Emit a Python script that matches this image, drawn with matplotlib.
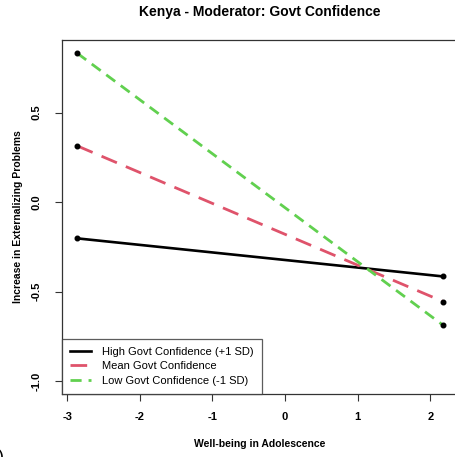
import matplotlib
matplotlib.use("Agg")
import matplotlib.pyplot as plt

# simple slopes
wellbeing = [-2.86, 2.18]
high_conf = [-0.203, -0.416]
mean_conf = [0.314, -0.557]
low_conf = [0.832, -0.690]

labels = ["High Govt Confidence (+1 SD)", "Mean Govt Confidence", "Low Govt Confidence (-1 SD)"]
xticks = [-3, -2, -1, 0, 1, 2]
yticks = [-1.0, -0.5, 0.0, 0.5]

plt.rcParams['font.family'] = ['Liberation Sans', 'DejaVu Sans']

W, H = 455, 457
fig = plt.figure(figsize=(W / 100, H / 100), dpi=100)
ax = fig.add_axes([62 / W, (H - 394) / H, (458 - 62) / W, (394 - 40) / H])

ax.plot(wellbeing, high_conf, color='black', lw=1.9, ls='-', label=labels[0])
ax.plot(wellbeing, mean_conf, color='#DF536B', lw=2.0, ls=(0, (6, 3.5)), label=labels[1])
ax.plot(wellbeing, low_conf, color='#61D04F', lw=2.0, ls=(0, (4, 2.5)), label=labels[2])
for ys in (high_conf, mean_conf, low_conf):
    ax.plot(wellbeing, ys, 'o', color='black', ms=3.3, zorder=5)

ax.set_xlim(-3.07, 2.38)
ax.set_ylim(-1.073, 0.906)
ax.set_xticks(xticks)
ax.set_xticklabels([f"{t:d}" for t in xticks], fontweight='bold', fontsize=8)
ax.set_yticks(yticks)
ax.set_yticklabels([f"{t:.1f}" for t in yticks], fontweight='bold', fontsize=8,
                   rotation=90, va='center')
ax.tick_params(axis='x', direction='out', length=5, width=0.8, color='#333333', pad=8)
ax.tick_params(axis='y', direction='out', length=5, width=0.8, color='#333333', pad=10)
for s in ax.spines.values():
    s.set_color('#333333')
    s.set_linewidth(0.9)

ax.set_title("Kenya - Moderator: Govt Confidence", fontweight='bold', fontsize=10, pad=17)
ax.set_xlabel("Well-being in Adolescence", fontweight='bold', fontsize=7.5, labelpad=12)
ax.set_ylabel("Increase in Externalizing Problems", fontweight='bold', fontsize=7.5, labelpad=6)

leg = ax.legend(loc='lower left', bbox_to_anchor=(0, 0), fontsize=8, frameon=True,
                fancybox=False, borderaxespad=0, handlelength=1.9, handletextpad=1.0,
                labelspacing=0.42, borderpad=0.72)
leg.get_frame().set_edgecolor('#333333')
leg.get_frame().set_linewidth(0.9)

fig.text(-0.005, -0.01, ")", fontsize=13)

fig.savefig("out.png", dpi=100)
